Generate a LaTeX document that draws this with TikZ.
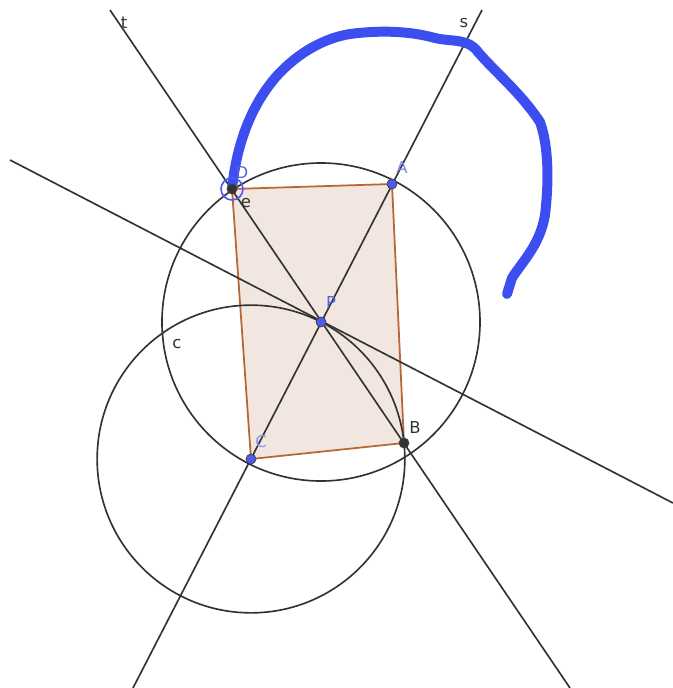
\documentclass[tikz,border=0pt]{standalone}
\usepackage{fontspec}
\setsansfont{DejaVu Sans}
\definecolor{geoline}{RGB}{50,50,50}
\definecolor{geoblue}{RGB}{77,90,240}
\definecolor{penblue}{RGB}{60,78,240}
\definecolor{rectfill}{RGB}{242,230,225}
\definecolor{rectedge}{RGB}{184,102,52}
\definecolor{lbl}{RGB}{85,95,225}
\usetikzlibrary{calc, positioning}

\begin{document}
\begin{tikzpicture}[
    x=0.03cm, y=-0.03cm,
    geo/.style={draw=geoline, line width=1.4pt},
    pt/.style={circle, fill=geoblue, draw=black!75, line width=0.6pt,
      inner sep=0pt, minimum size=0.3cm},
    ptdark/.style={pt, fill=black!80},
    lab/.style={font=\sffamily\fontsize{14}{16}\selectfont, inner sep=1pt},
  ]
    \useasboundingbox[fill=white] (0,0) rectangle (673,688);

    % points
    \coordinate (P) at (321,322);
    \coordinate (A) at (392,184);
    \coordinate (B) at (404,443);
    \coordinate (C) at (251,459);
    \coordinate (D) at (232,189);
    % line ends
    \coordinate (s1) at (133,688);
    \coordinate (s2) at (482,10);
    \coordinate (t1) at (110,10);
    \coordinate (t2) at (570,688);
    \coordinate (e1) at (10,160);
    \coordinate (e2) at (673,503);

    % rectangle
    \draw[fill=rectfill, draw=rectedge, line width=1.5pt] (D) -- (A) -- (B) -- (C) -- cycle;

    % circles
    \draw[geo] (P) circle[radius=4.77cm];
    \draw[geo] let \p1=($(P)-(C)$) in (C) circle ({veclen(\x1,\y1)});

    % lines
    \draw[geo] (s1) -- (s2);
    \draw[geo] (t1) -- (t2);
    \draw[geo] (e1) -- (e2);

    % pen stroke
    \draw[penblue, line width=8.5pt, line cap=round, line join=round]
      (D) .. controls (236,150) and (248,110) .. (275,78)
      .. controls (298,52) and (325,38) .. (350,34)
      .. controls (380,30) and (410,31) .. (435,38)
      .. controls (452,42) and (468,38) .. (478,52)
      .. controls (495,72) and (520,92) .. (540,122)
      .. controls (550,150) and (548,190) .. (545,215)
      .. controls (540,245) and (522,262) .. (512,278)
      -- (507,294);

    % marks
    \draw[geoblue, line width=1.4pt] (D) circle[radius=0.33cm];
    \node[ptdark] (nD) at (D) {};
    \node[pt] (nA) at (A) {};
    \node[ptdark] (nB) at (B) {};
    \node[pt] (nC) at (C) {};
    \node[pt] (nP) at (P) {};

    % labels
    \node[lab, text=lbl] at (331,303) {P};
    \node[lab, text=lbl!75] at (402,168) {A};
    \node[lab, text=geoline] at (415,428) {B};
    \node[lab, text=lbl!65] at (261,442) {C};
    \node[lab, text=lbl] at (242,173) {D};
    \node[lab, text=geoline] at (246,203) {e};
    \node[lab, text=geoline] at (124,23) {t};
    \node[lab, text=geoline] at (464,23) {s};
    \node[lab, text=geoline] at (177,344) {c};
  \end{tikzpicture}
\end{document}
